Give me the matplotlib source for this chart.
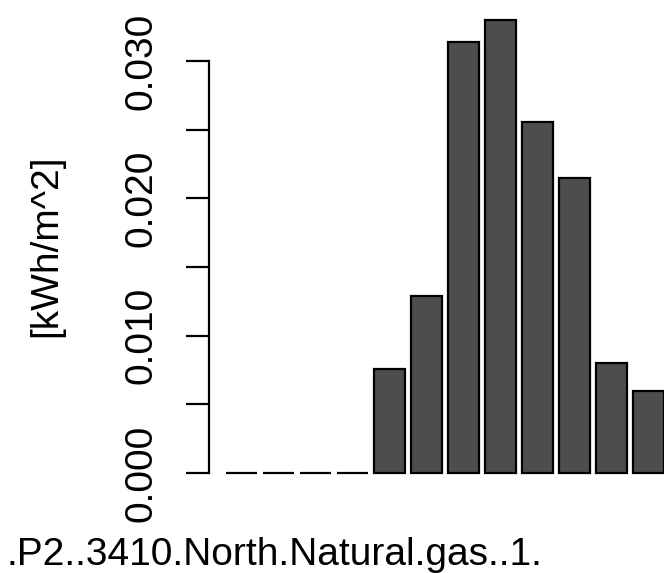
import numpy as np
import matplotlib
matplotlib.use("Agg")
import matplotlib.pyplot as plt

plt.rcParams['font.family'] = ['Liberation Sans', 'DejaVu Sans']

# bar values
values = [0.0, 0.0, 0.0, 0.0, 0.00759, 0.01291, 0.03136, 0.03299,
          0.02554, 0.02150, 0.00799, 0.00595]
ytick_vals = [0.000, 0.005, 0.010, 0.015, 0.020, 0.025, 0.030]
ytick_labels = ["0.000", "", "0.010", "", "0.020", "", "0.030"]
title = ".P2..3410.North.Natural.gas..1."
ylab = "[kWh/m^2]"

W, H = 664, 573
fig = plt.figure(figsize=(W / 100, H / 100), dpi=100)
# plot region in pixels: x 209..681, y 1.8..491 (R style layout, cropped at right)
ax = fig.add_axes([209 / W, (H - 491) / H, (681 - 209) / W, (491 - 1.8) / H])

# R barplot positions: width 1, space 0.2
x = 0.7 + 1.2 * np.arange(len(values))
ax.bar(x, values, width=1.0, color="#4d4d4d", edgecolor="black", linewidth=1.6)

ax.set_xlim(-0.368, 14.968)
ax.set_ylim(-0.00132, 0.03431)

for s in ["top", "right", "bottom"]:
    ax.spines[s].set_visible(False)
ax.spines["left"].set_bounds(0, 0.03)
ax.spines["left"].set_linewidth(1.6)
ax.set_xticks([])
ax.set_yticks(ytick_vals)
ax.set_yticklabels(ytick_labels, rotation=90, va="center", fontsize=28)
ax.tick_params(axis="y", length=16.5, width=1.6, pad=19)

fig.text(46 / W, 1 - 246 / H, ylab, rotation=90, ha="center", va="center", fontsize=28)
fig.text(7 / W, (H - 565) / H, title, ha="left", va="baseline", fontsize=28)

fig.savefig("out.png", dpi=100)
